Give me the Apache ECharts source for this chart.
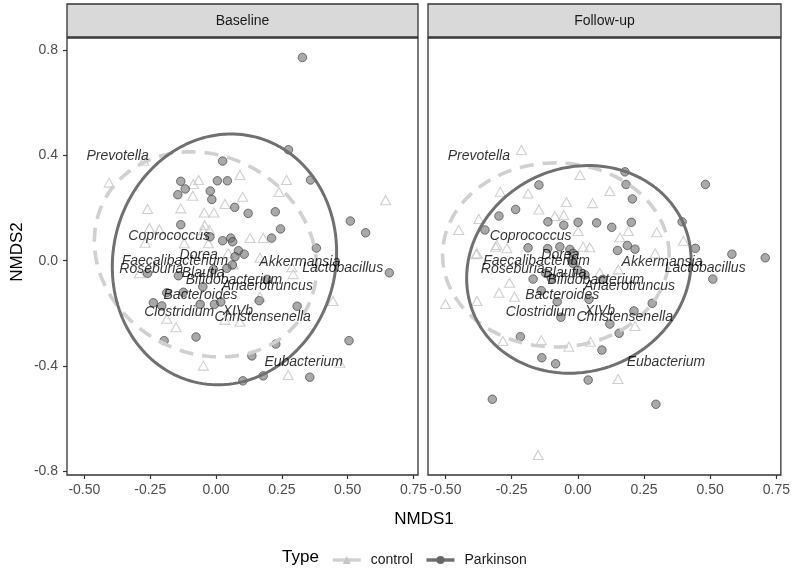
<!DOCTYPE html>
<html><head><meta charset="utf-8">
<script src="https://cdn.jsdelivr.net/npm/echarts@6/dist/echarts.min.js"></script>
<style>html,body{margin:0;padding:0;background:#fff}#c{width:793px;height:575px}</style>
</head><body><div id="c"></div>
<script>
const FONT = '"Liberation Sans", Arial, Helvetica, sans-serif';
const panels = ['Baseline', 'Follow-up'];
const groups = ['control', 'Parkinson'];
const xTicks = [-0.5, -0.25, 0, 0.25, 0.5, 0.75];
const yTicks = [-0.8, -0.4, 0, 0.4, 0.8];

// NMDS site scores
const baselineControl = [[-0.406,0.297],[-0.275,0.380],[-0.086,0.292],[-0.066,0.307],[-0.088,0.247],[0.091,0.326],[0.101,0.243],[0.268,0.307],[0.239,0.261],[0.644,0.230],[-0.260,0.197],[-0.134,0.199],[-0.045,0.183],[-0.008,0.183],[0.034,0.216],[-0.253,0.124],[-0.215,0.119],[-0.043,0.135],[-0.025,0.117],[-0.269,0.068],[-0.121,0.066],[-0.029,0.066],[0.129,0.086],[0.179,0.086],[0.288,-0.025],[0.293,-0.051],[-0.291,-0.048],[0.444,-0.153],[0.167,-0.137],[-0.063,-0.162],[-0.187,-0.221],[-0.152,-0.253],[0.034,-0.225],[0.091,-0.232],[-0.048,-0.399],[0.274,-0.435],[0.470,-0.388],[0.046,0.028],[0.065,-0.014],[0.167,0.011],[-0.048,0.116]];
const baselineParkinson = [[0.328,0.773],[0.275,0.422],[0.025,0.379],[-0.134,0.302],[-0.117,0.273],[-0.145,0.251],[0.005,0.304],[0.043,0.304],[-0.022,0.265],[-0.016,0.233],[0.359,0.307],[0.071,0.203],[0.122,0.180],[0.225,0.186],[0.510,0.151],[0.568,0.106],[0.245,0.121],[-0.134,0.137],[0.211,0.086],[0.025,0.076],[0.056,0.086],[0.063,0.072],[0.381,0.048],[0.085,0.038],[0.107,0.025],[-0.023,0.091],[0.658,-0.046],[0.062,-0.016],[-0.260,-0.048],[-0.143,-0.057],[-0.050,-0.099],[0.194,-0.071],[0.041,-0.029],[-0.010,-0.033],[-0.187,-0.122],[-0.238,-0.160],[-0.206,-0.172],[0.164,-0.152],[0.308,-0.173],[-0.006,-0.166],[0.018,-0.157],[-0.197,-0.304],[-0.076,-0.290],[0.227,-0.317],[0.505,-0.304],[0.136,-0.362],[0.179,-0.438],[0.102,-0.457],[0.356,-0.443],[-0.124,-0.120],[0.072,0.015],[-0.060,-0.166]];
const followControl = [[-0.213,0.421],[0.008,0.326],[0.121,0.265],[-0.188,0.256],[-0.293,0.262],[-0.043,0.223],[0.056,0.219],[-0.147,0.195],[-0.087,0.170],[-0.053,0.174],[-0.374,0.159],[-0.450,0.117],[-0.311,0.053],[-0.268,0.047],[-0.384,0.025],[0.001,0.113],[0.020,0.053],[0.045,0.051],[0.191,0.113],[0.159,0.089],[0.298,0.108],[0.399,0.076],[0.292,0.028],[-0.500,-0.165],[-0.381,-0.153],[-0.298,-0.122],[-0.239,-0.137],[-0.258,-0.084],[-0.138,-0.302],[-0.283,-0.305],[-0.034,-0.327],[0.048,-0.308],[0.152,-0.450],[-0.150,-0.739],[0.216,-0.248],[0.153,-0.033],[0.083,-0.046],[-0.381,0.028],[-0.306,0.060]];
const followParkinson = [[0.178,0.338],[0.182,0.290],[0.206,0.235],[0.482,0.290],[-0.147,0.288],[-0.235,0.195],[-0.298,0.170],[-0.351,0.117],[-0.113,0.148],[-0.053,0.135],[0.001,0.146],[0.071,0.144],[0.128,0.127],[0.202,0.146],[0.394,0.148],[0.150,0.039],[0.187,0.058],[0.216,0.044],[0.444,0.047],[0.582,0.025],[0.708,0.011],[-0.188,0.049],[-0.114,0.046],[-0.068,0.053],[-0.030,0.043],[-0.018,0.028],[0.510,-0.070],[-0.169,-0.070],[-0.121,-0.048],[-0.100,-0.067],[-0.138,-0.114],[-0.078,-0.156],[-0.064,-0.215],[0.042,-0.147],[0.094,-0.071],[0.281,-0.162],[0.212,-0.191],[0.121,-0.241],[0.156,-0.276],[-0.217,-0.289],[0.091,-0.340],[-0.136,-0.369],[-0.084,-0.392],[0.039,-0.454],[-0.323,-0.527],[0.295,-0.546],[-0.024,0.003],[-0.018,-0.010],[0.027,-0.054],[0.000,-0.035]];

// 95% ellipses: [centre x, centre y, half width, half height, x-shift of top point]
const ellipseBaselineControl = [-0.040, 0.024, 0.422, 0.390, -0.055];
const ellipseBaselineParkinson = [0.032, 0.005, 0.426, 0.477, 0.025];
const ellipseFollowControl = [-0.083, 0.022, 0.428, 0.350, 0.000];
const ellipseFollowParkinson = [0.004, -0.033, 0.424, 0.395, 0.036];

// genus vectors (labels)
const taxa = ['Prevotella','Coprococcus','Dorea','Faecalibacterium','Roseburia','Blautia','Bifidobacterium','Anaerotruncus','Akkermansia','Lactobacillus','Bacteroides','Clostridium','XIVb','Christensenella','Eubacterium'];
const taxaX = [-0.374,-0.178,-0.066,-0.156,-0.246,-0.049,0.068,0.195,0.318,0.481,-0.059,-0.140,0.083,0.177,0.333];
const taxaY = [0.396,0.094,0.022,0.000,-0.033,-0.047,-0.073,-0.096,-0.004,-0.029,-0.130,-0.194,-0.190,-0.215,-0.384];

function ellipsePoints(p) {
  const [cx, cy, w, h, shift] = p;
  const l21 = shift * h / w;
  const l22 = Math.sqrt(Math.max(h * h - l21 * l21, 1e-9));
  const out = [];
  for (let i = 0; i <= 160; i++) {
    const t = i / 160 * Math.PI * 2;
    out.push([cx + w * Math.cos(t), cy + l21 * Math.cos(t) + l22 * Math.sin(t)]);
  }
  return out;
}

const pointSets = [[baselineControl, baselineParkinson], [followControl, followParkinson]];
const ellipseSets = [[ellipseBaselineControl, ellipseBaselineParkinson], [ellipseFollowControl, ellipseFollowParkinson]];

const grids = [
  {left: 67, top: 38, width: 351, height: 437},
  {left: 428, top: 38, width: 353, height: 437}
].map(g => Object.assign(g, {show: true, borderColor: '#333333', borderWidth: 1.3, backgroundColor: '#ffffff'}));

const xAxes = panels.map((_, i) => ({
  type: 'value', gridIndex: i, min: -0.566, max: 0.767, position: 'bottom',
  axisLine: {show: false, onZero: false}, splitLine: {show: false},
  axisTick: {show: true, length: 4, lineStyle: {color: '#333333', width: 1.2}, customValues: xTicks},
  axisLabel: {customValues: xTicks, formatter: v => Number(v).toFixed(2), color: '#4d4d4d', fontSize: 14, fontFamily: FONT, margin: 8}
}));
const yAxes = panels.map((_, i) => ({
  type: 'value', gridIndex: i, min: -0.815, max: 0.847, position: 'left',
  axisLine: {show: false, onZero: false}, splitLine: {show: false},
  axisTick: {show: i === 0, length: 4, lineStyle: {color: '#333333', width: 1.2}, customValues: yTicks},
  axisLabel: {show: i === 0, customValues: yTicks, formatter: v => Number(v).toFixed(1), color: '#4d4d4d', fontSize: 14, fontFamily: FONT, margin: 9}
}));

const series = [];
panels.forEach((_, i) => {
  // ellipses
  series.push({
    name: 'control', type: 'line', xAxisIndex: i, yAxisIndex: i,
    data: ellipsePoints(ellipseSets[i][0]), showSymbol: false, symbol: 'triangle', symbolSize: 9,
    itemStyle: {color: '#c6c6c6'}, lineStyle: {color: '#d0d0d0', width: 3.6, type: [14, 9]},
    z: 4, silent: true, animation: false
  });
  series.push({
    name: 'Parkinson', type: 'line', xAxisIndex: i, yAxisIndex: i,
    data: ellipsePoints(ellipseSets[i][1]), showSymbol: false, symbol: 'circle', symbolSize: 8,
    itemStyle: {color: '#666666'}, lineStyle: {color: '#707070', width: 3},
    z: 4, silent: true, animation: false
  });
  // points
  series.push({
    name: 'control', type: 'scatter', xAxisIndex: i, yAxisIndex: i,
    data: pointSets[i][0], symbol: 'triangle', symbolSize: [10, 9],
    itemStyle: {color: 'rgba(255,255,255,0)', borderColor: '#c4c4c4', borderWidth: 1.1},
    z: 3, silent: true, animation: false
  });
  series.push({
    name: 'Parkinson', type: 'scatter', xAxisIndex: i, yAxisIndex: i,
    data: pointSets[i][1], symbol: 'circle', symbolSize: 8.5,
    itemStyle: {color: 'rgba(105,105,105,0.72)', borderColor: 'rgba(55,55,55,0.8)', borderWidth: 1},
    z: 3, silent: true, animation: false
  });
  // genus labels
  series.push({
    name: 'taxa' + i, type: 'scatter', xAxisIndex: i, yAxisIndex: i,
    data: taxa.map((n, k) => ({name: n, value: [taxaX[k], taxaY[k]]})),
    symbolSize: 1, itemStyle: {color: 'rgba(0,0,0,0)'},
    label: {show: true, position: 'inside', formatter: p => p.name, color: '#000000', fontSize: 14, fontStyle: 'italic', fontFamily: FONT},
    labelLayout: {hideOverlap: false},
    z: 6, silent: true, animation: false
  });
});

const graphic = [];
grids.forEach((g, i) => {
  graphic.push({type: 'rect', shape: {x: g.left, y: 4, width: g.width, height: 33}, style: {fill: '#d9d9d9', stroke: '#333333', lineWidth: 1.3}, z: 10});
  graphic.push({type: 'text', x: g.left + g.width / 2, y: 21, style: {text: panels[i], font: '14px ' + FONT, fill: '#1a1a1a', textAlign: 'center', textVerticalAlign: 'middle'}, z: 11});
});
graphic.push({type: 'text', x: 424, y: 519, style: {text: 'NMDS1', font: '17px ' + FONT, fill: '#000000', textAlign: 'center', textVerticalAlign: 'middle'}});
graphic.push({type: 'text', x: 17, y: 252, rotation: Math.PI / 2, style: {text: 'NMDS2', font: '17px ' + FONT, fill: '#000000', textAlign: 'center', textVerticalAlign: 'middle'}});
graphic.push({type: 'text', x: 282, y: 557, style: {text: 'Type', font: '17px ' + FONT, fill: '#000000', textAlign: 'left', textVerticalAlign: 'middle'}});

const chart = echarts.init(document.getElementById('c'), null, {renderer: 'canvas'});
chart.setOption({
  animation: false,
  backgroundColor: '#ffffff',
  grid: grids,
  xAxis: xAxes,
  yAxis: yAxes,
  legend: {
    data: groups, left: 326, top: 548, itemWidth: 28, itemHeight: 10, itemGap: 12,
    selectedMode: false,
    lineStyle: {type: 'solid', width: 3.5},
    textStyle: {fontSize: 14, color: '#1a1a1a', fontFamily: FONT, padding: [0, 0, 0, 5]}
  },
  graphic: graphic,
  series: series
});
</script></body></html>
